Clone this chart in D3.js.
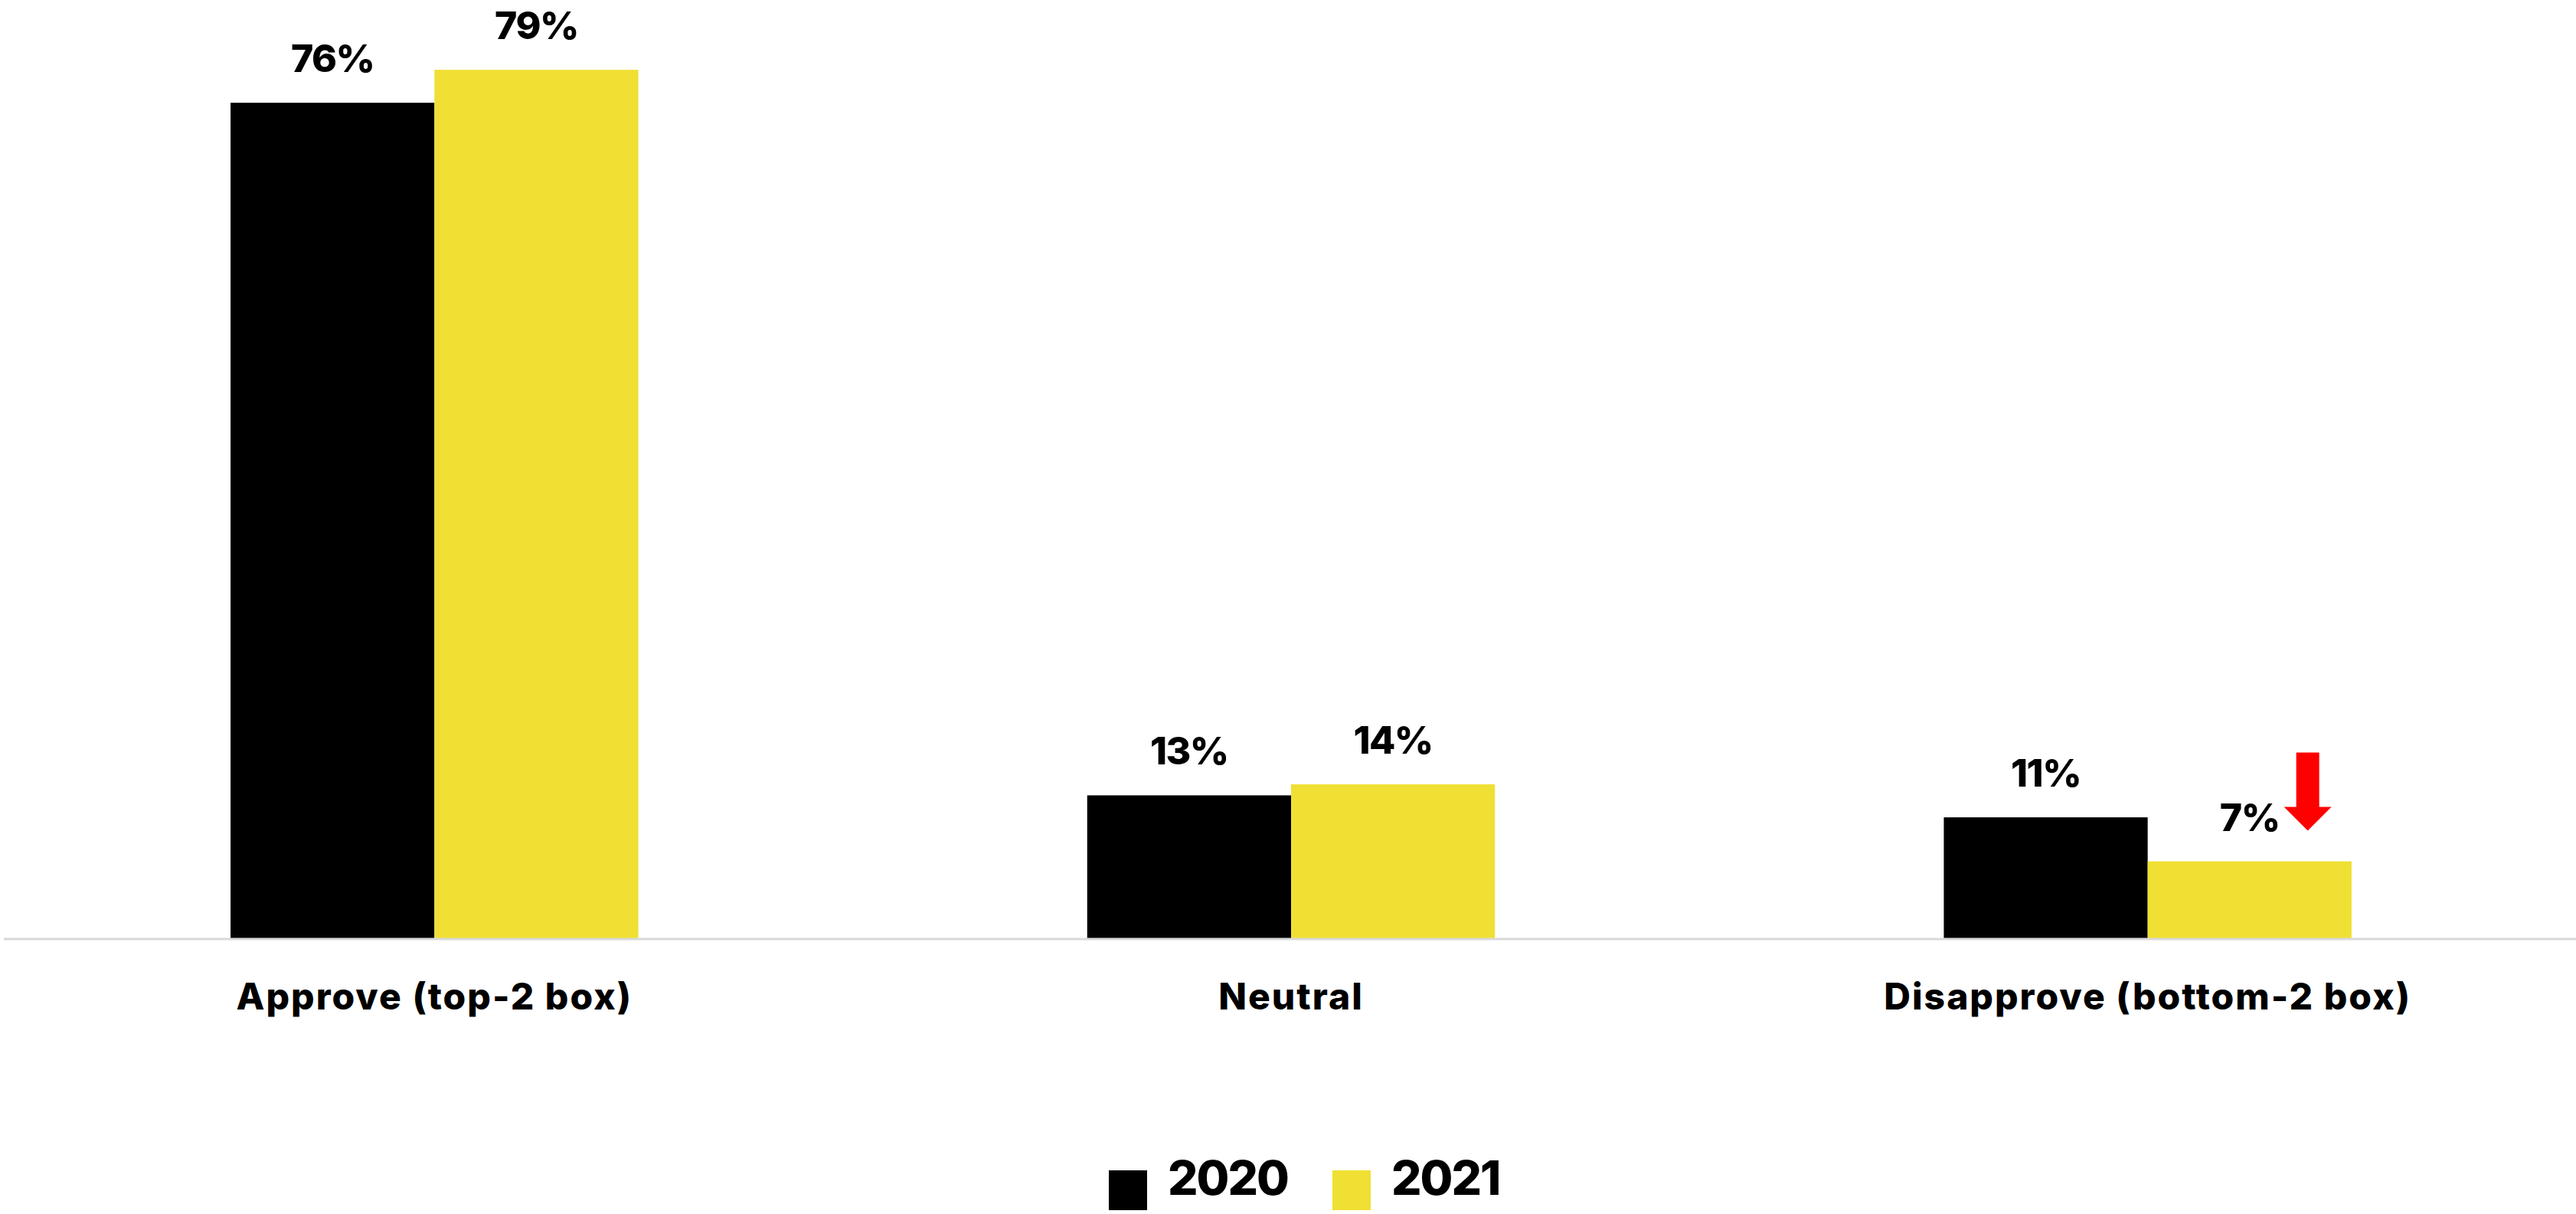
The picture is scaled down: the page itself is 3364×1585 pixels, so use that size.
<!DOCTYPE html>
<html>
<head>
<meta charset="utf-8">
<script src="https://cdn.jsdelivr.net/npm/d3@7"></script>
<style>
  html, body { margin: 0; padding: 0; background: #fff; }
  svg { display: block; font-family: Inter, "Open Sans", sans-serif; }
</style>
</head>
<body>
<svg id="chart" width="3364" height="1585"></svg>
<script>
// Approval ratings, two survey years
const categories = ["Approve (top-2 box)", "Neutral", "Disapprove (bottom-2 box)"];
const years = ["2020", "2021"];
const values2020 = [0.76, 0.13, 0.11];
const values2021 = [0.79, 0.14, 0.07];
const colors = ["#000000", "#F0E033"];

const W = 3364, H = 1585;
const svg = d3.select("#chart");

const x0 = d3.scaleBand().domain(categories).range([8, W]).padding(0);
const groupWidth = x0.bandwidth() * 0.476;
const x1 = d3.scaleBand().domain(years).range([0, groupWidth]).padding(0);
const y = d3.scaleLinear().domain([0, 0.85]).range([1225, 5]);

const series = [values2020, values2021];
const rows = [];
categories.forEach((c, i) => {
  years.forEach((yr, j) => rows.push({ cat: c, year: yr, value: series[j][i], color: colors[j] }));
});

const barX = d => x0(d.cat) + (x0.bandwidth() - groupWidth) / 2 + x1(d.year);

// bars
svg.append("g").selectAll("rect").data(rows).join("rect")
  .attr("x", barX)
  .attr("y", d => y(d.value))
  .attr("width", x1.bandwidth())
  .attr("height", d => y(0) - y(d.value))
  .attr("fill", d => d.color);

// baseline
svg.append("line")
  .attr("x1", 5).attr("x2", W)
  .attr("y1", y(0) + 1).attr("y2", y(0) + 1)
  .attr("stroke", "#d9d9d9").attr("stroke-width", 3);

// value labels
svg.append("g").selectAll("text").data(rows).join("text")
  .attr("x", d => barX(d) + x1.bandwidth() / 2)
  .attr("y", d => y(d.value) - 40)
  .attr("text-anchor", "middle")
  .attr("font-size", 50)
  .attr("font-weight", 800)
  .attr("letter-spacing", -1.5)
  .attr("fill", "#000")
  .text(d => Math.round(d.value * 100) + "%");

// category labels
svg.append("g").selectAll("text").data(categories).join("text")
  .attr("x", d => x0(d) + x0.bandwidth() / 2)
  .attr("y", 1318)
  .attr("text-anchor", "middle")
  .attr("font-size", 48)
  .attr("font-weight", 800)
  .attr("letter-spacing", 2)
  .attr("fill", "#000")
  .text(d => d);

// downward arrow beside the 2021 disapproval bar
const dis = rows.find(d => d.cat === categories[2] && d.year === "2021");
const ax = barX(dis) + x1.bandwidth() * 0.785;
const tipY = y(dis.value) - 40;
svg.append("path")
  .attr("d", `M${ax - 15},${tipY - 102} L${ax + 15},${tipY - 102} L${ax + 15},${tipY - 31}
              L${ax + 31},${tipY - 31} L${ax},${tipY} L${ax - 31},${tipY - 31} L${ax - 15},${tipY - 31} Z`)
  .attr("fill", "#FF0000");

// legend
const legend = svg.append("g");
const legendX = [1448, 1740];
years.forEach((yr, j) => {
  legend.append("rect")
    .attr("x", legendX[j]).attr("y", 1528)
    .attr("width", 50).attr("height", 52)
    .attr("fill", colors[j]);
  legend.append("text")
    .attr("x", legendX[j] + 77).attr("y", 1560)
    .attr("font-size", 62)
    .attr("font-weight", 800)
    .attr("letter-spacing", -2)
    .attr("fill", "#000")
    .text(yr);
});
</script>
</body>
</html>
